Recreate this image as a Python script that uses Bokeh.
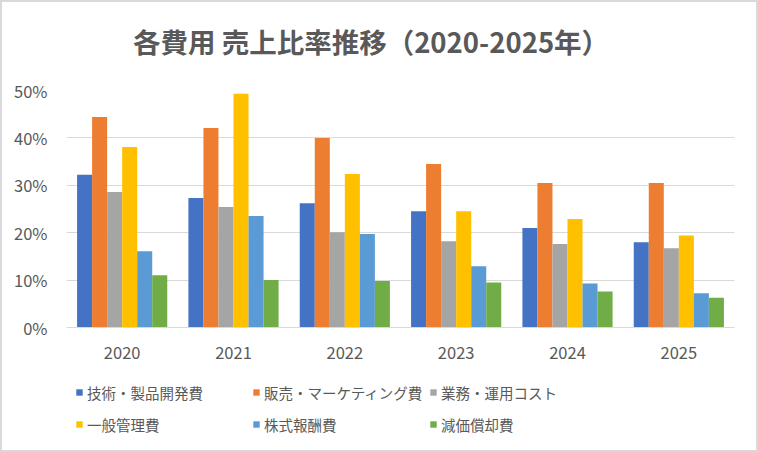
from bokeh.plotting import figure
from bokeh.layouts import column
from bokeh.models import (ColumnDataSource, FactorRange, Legend, LegendItem,
                          NumeralTickFormatter, FixedTicker, Range1d, Label)
from bokeh.transform import dodge
from bokeh.embed import file_html
from bokeh.resources import INLINE

years = ["2020", "2021", "2022", "2023", "2024", "2025"]
series_names = ["技術・製品開発費", "販売・マーケティング費", "業務・運用コスト",
                "一般管理費", "株式報酬費", "減価償却費"]
tech_dev = [0.322, 0.273, 0.262, 0.245, 0.210, 0.180]
sales_mkt = [0.444, 0.421, 0.400, 0.345, 0.305, 0.305]
operations = [0.286, 0.254, 0.201, 0.182, 0.176, 0.167]
general_admin = [0.381, 0.493, 0.324, 0.245, 0.229, 0.194]
stock_comp = [0.161, 0.235, 0.197, 0.129, 0.093, 0.072]
depreciation = [0.110, 0.100, 0.098, 0.095, 0.076, 0.063]
colors = ["#4472C4", "#ED7D31", "#A5A5A5", "#FFC000", "#5B9BD5", "#70AD47"]
title_text = "各費用 売上比率推移（2020-2025年）"

FONT = "Noto Sans CJK JP"
TXT = "#595959"
GRID = "#d9d9d9"

keys = ["s0", "s1", "s2", "s3", "s4", "s5"]
source = ColumnDataSource(data=dict(
    year=years, s0=tech_dev, s1=sales_mkt, s2=operations,
    s3=general_admin, s4=stock_comp, s5=depreciation))

# title strip
tt = figure(width=754, height=60, x_range=Range1d(0, 1), y_range=Range1d(0, 1),
            output_backend="svg", toolbar_location=None, min_border=0)
tt.outline_line_color = None
tt.axis.visible = False
tt.grid.visible = False
tt.add_layout(Label(text=title_text, x=304.5, y=22, x_units="screen",
                    y_units="screen", text_align="center",
                    text_baseline="middle", text_font=FONT,
                    text_font_size="27.5px", text_font_style="bold",
                    text_color=TXT))

p = figure(width=754, height=314, x_range=FactorRange(*years),
           y_range=Range1d(0, 0.5), output_backend="svg",
           toolbar_location=None, min_border_left=64, min_border_right=22,
           min_border_top=28, min_border_bottom=49)
p.outline_line_color = None

bar_w = 0.135
for i, k in enumerate(keys):
    p.vbar(x=dodge("year", (i - 2.5) * bar_w, range=p.x_range), top=k,
           width=bar_w, source=source, fill_color=colors[i], line_color=None)

p.yaxis.ticker = FixedTicker(ticks=[0, 0.1, 0.2, 0.3, 0.4, 0.5])
p.yaxis.formatter = NumeralTickFormatter(format="0%")
p.yaxis.axis_line_color = None
p.yaxis.major_tick_line_color = None
p.yaxis.minor_tick_line_color = None
p.yaxis.major_label_standoff = 13
p.xaxis.axis_line_color = GRID
p.xaxis.major_tick_line_color = None
p.xaxis.minor_tick_line_color = None
p.xaxis.major_label_standoff = 13
for ax in (p.xaxis, p.yaxis):
    ax.major_label_text_font = FONT
    ax.major_label_text_font_size = "16.5px"
    ax.major_label_text_color = TXT
p.xgrid.grid_line_color = None
p.ygrid.grid_line_color = GRID
p.ygrid.grid_line_width = 1

# legend strip (same series, bars fall outside this strip's range)
lg = figure(width=754, height=74, x_range=FactorRange(*years),
            y_range=Range1d(1, 2), output_backend="svg",
            toolbar_location=None, min_border=0)
lg.outline_line_color = None
lg.axis.visible = False
lg.grid.visible = False
lg_renderers = []
for i, k in enumerate(keys):
    r = lg.vbar(x=dodge("year", (i - 2.5) * bar_w, range=lg.x_range), top=k,
                width=bar_w, source=source, fill_color=colors[i],
                line_color=None)
    lg_renderers.append(r)

items = [LegendItem(label=n, renderers=[r])
         for n, r in zip(series_names, lg_renderers)]
legend = Legend(items=items, orientation="horizontal", ncols=3,
                location=(9, 10), padding=0, margin=0, spacing=0,
                glyph_width=8, glyph_height=8, label_standoff=4,
                label_height=32, label_width=165,
                label_text_font=FONT, label_text_font_size="14.5px",
                label_text_color=TXT, border_line_color=None,
                background_fill_alpha=0)
lg.add_layout(legend, "center")

page = column(tt, p, lg, spacing=0, styles={"border": "2px solid #d9d9d9"})
open("out.html", "w").write(file_html(page, INLINE))
